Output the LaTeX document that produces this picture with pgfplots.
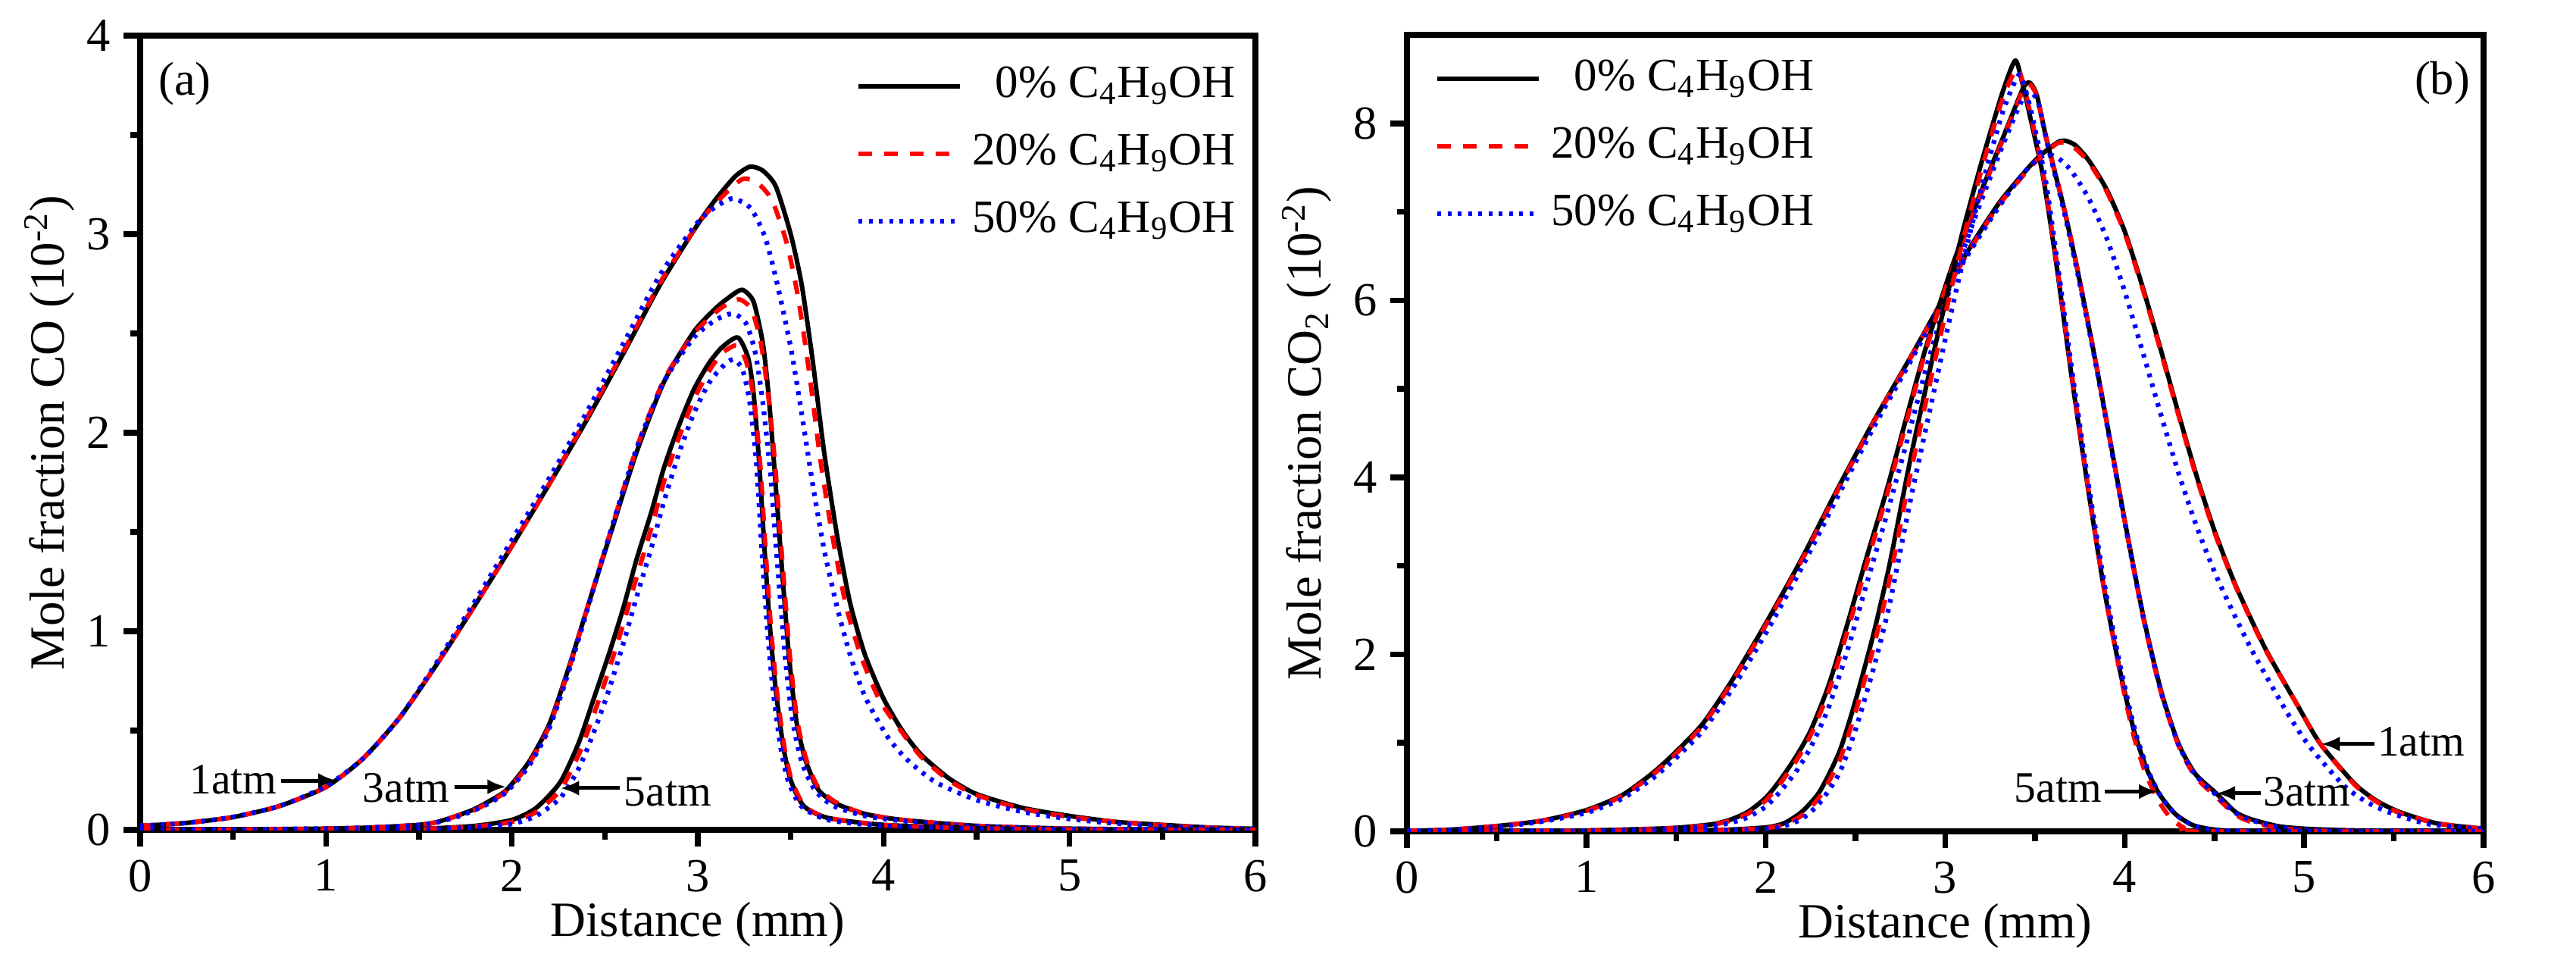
\documentclass[border=0pt]{standalone}
\usepackage{fontspec}
\setmainfont{Liberation Serif}
\usepackage{pgfplots}
\pgfplotsset{compat=1.18}
\usetikzlibrary{arrows.meta}

\tikzset{
  ann/.style={font=\fontsize{11.5}{13}\selectfont, inner sep=0pt},
  arr/.style={line width=1pt, -{Latex[length=5pt,width=4pt]}},
  s0/.style={black, line width=1.2pt, line join=round},
  s20/.style={red, line width=1.2pt, dash pattern=on 3.6pt off 3.2pt, line join=round},
  s50/.style={blue, line width=1.25pt, dash pattern=on 1pt off 1.7pt, line join=round},
}
\pgfplotsset{
  panel/.style={
    scale only axis,
    xmin=0, xmax=6, ymin=0,
    xtick={0,1,2,3,4,5,6},
    minor x tick num=1,
    minor y tick num=1,
    tick align=outside,
    xtick pos=left, ytick pos=left,
    major tick length=4.4pt, minor tick length=2.6pt,
    tick style={black, line width=1.5pt},
    axis line style={line width=1.6pt},
    tick label style={font=\fontsize{12.5}{15}\selectfont},
    /pgf/number format/assume math mode=true,
    label style={font=\fontsize{13}{15}\selectfont},
    xlabel={Distance (mm)},
    xlabel style={at={(axis description cs:0.5,-0.09)}, anchor=north, inner sep=0pt},
    legend cell align=right,
    legend style={draw=none, fill=none, inner sep=0pt,
      font=\fontsize{12.2}{15}\selectfont,
      nodes={inner sep=0pt, text height=9pt, text depth=3pt},
      row sep=5.8pt,
      /tikz/every odd column/.append style={column sep=2.6pt}},
  },
  leglong/.style={legend image code/.code={\draw[##1] (0pt,0pt) -- (26.8pt,0pt);}},
  c0/.style={/tikz/s0, /tikz/smooth, /tikz/tension=0.4},
  c20/.style={/tikz/s20, /tikz/smooth, /tikz/tension=0.4},
  c50/.style={/tikz/s50, /tikz/smooth, /tikz/tension=0.4},
}

\begin{document}
\begin{tikzpicture}
\useasboundingbox (0,0) rectangle (680pt,255pt);

% ---------------- (a) CO ----------------
\begin{axis}[panel,
  at={(37pt,36pt)}, anchor=south west,
  width=294.4pt, height=209.6pt,
  ymax=4, ytick={0,1,2,3,4},
  ylabel={Mole fraction CO (10\textsuperscript{-2})},
  ylabel style={at={(axis description cs:-0.0815,0.5)}, anchor=center},
  legend style={at={(axis description cs:0.983,0.966)}, anchor=north east},
]
\addlegendimage{s0, leglong}
\addlegendentry{0\% C\textsubscript{4}H\textsubscript{9}OH}
\addlegendimage{s20, leglong}
\addlegendentry{20\% C\textsubscript{4}H\textsubscript{9}OH}
\addlegendimage{s50, leglong}
\addlegendentry{50\% C\textsubscript{4}H\textsubscript{9}OH}
% 1 atm
\addplot[c0, forget plot] coordinates {(0.0,0.02) (0.25,0.035) (0.5,0.064) (0.75,0.12) (1.0,0.216) (1.2,0.36) (1.4,0.57) (1.6,0.84) (1.8,1.13) (2.0,1.43) (2.2,1.74) (2.4,2.06) (2.6,2.40) (2.8,2.75) (3.0,3.05) (3.1,3.18) (3.2,3.29) (3.28,3.34) (3.35,3.32) (3.42,3.24) (3.5,3.0) (3.56,2.74) (3.62,2.35) (3.68,1.90) (3.75,1.48) (3.82,1.14) (3.9,0.88) (4.0,0.66) (4.1,0.50) (4.2,0.38) (4.35,0.26) (4.5,0.18) (4.75,0.11) (5.0,0.07) (5.25,0.04) (5.5,0.025) (5.75,0.012) (6.0,0.005)};
\addplot[c20, forget plot] coordinates {(0.0,0.02) (0.25,0.035) (0.5,0.064) (0.75,0.12) (1.0,0.216) (1.2,0.36) (1.4,0.57) (1.6,0.84) (1.8,1.13) (2.0,1.43) (2.2,1.74) (2.4,2.07) (2.6,2.41) (2.8,2.76) (3.0,3.05) (3.1,3.16) (3.2,3.25) (3.25,3.28) (3.32,3.26) (3.4,3.17) (3.48,2.95) (3.54,2.68) (3.6,2.30) (3.66,1.86) (3.73,1.45) (3.8,1.12) (3.88,0.87) (3.98,0.65) (4.1,0.49) (4.2,0.37) (4.35,0.25) (4.5,0.175) (4.75,0.105) (5.0,0.065) (5.25,0.04) (5.5,0.023) (5.75,0.011) (6.0,0.005)};
\addplot[c50, forget plot] coordinates {(0.0,0.02) (0.25,0.035) (0.5,0.065) (0.75,0.12) (1.0,0.22) (1.2,0.36) (1.4,0.57) (1.6,0.85) (1.8,1.15) (2.0,1.46) (2.2,1.77) (2.4,2.10) (2.6,2.45) (2.8,2.80) (3.0,3.06) (3.1,3.14) (3.19,3.18) (3.285,3.13) (3.36,2.99) (3.42,2.78) (3.5,2.43) (3.56,2.09) (3.62,1.73) (3.68,1.41) (3.75,1.12) (3.82,0.88) (3.9,0.67) (4.02,0.47) (4.13,0.35) (4.28,0.24) (4.5,0.15) (4.75,0.09) (5.0,0.055) (5.25,0.032) (5.5,0.018) (5.75,0.009) (6.0,0.004)};
% 3 atm
\addplot[c0, forget plot] coordinates {(0.0,0.0) (0.5,0.002) (1.0,0.006) (1.25,0.012) (1.5,0.025) (1.6,0.04) (1.72,0.076) (1.8,0.105) (1.87,0.14) (1.97,0.20) (2.09,0.34) (2.2,0.53) (2.3,0.80) (2.4,1.10) (2.52,1.46) (2.67,1.90) (2.82,2.26) (2.98,2.51) (3.1,2.63) (3.18,2.69) (3.24,2.72) (3.3,2.66) (3.35,2.45) (3.38,2.2) (3.41,1.85) (3.45,1.35) (3.49,0.88) (3.53,0.55) (3.58,0.35) (3.65,0.2) (3.75,0.13) (3.9,0.08) (4.1,0.05) (4.5,0.02) (5.0,0.006) (5.5,0.002) (6.0,0.0)};
\addplot[c20, forget plot] coordinates {(0.0,0.0) (0.5,0.002) (1.0,0.006) (1.25,0.012) (1.5,0.025) (1.6,0.04) (1.72,0.075) (1.8,0.10) (1.87,0.135) (1.97,0.195) (2.09,0.33) (2.2,0.52) (2.3,0.79) (2.4,1.10) (2.52,1.47) (2.67,1.92) (2.82,2.27) (2.98,2.50) (3.1,2.61) (3.18,2.66) (3.23,2.67) (3.29,2.62) (3.34,2.45) (3.38,2.18) (3.415,1.85) (3.455,1.35) (3.495,0.88) (3.535,0.55) (3.585,0.35) (3.65,0.21) (3.75,0.135) (3.9,0.08) (4.1,0.05) (4.5,0.02) (5.0,0.006) (5.5,0.002) (6.0,0.0)};
\addplot[c50, forget plot] coordinates {(0.0,0.0) (0.5,0.002) (1.0,0.006) (1.25,0.012) (1.5,0.024) (1.6,0.038) (1.72,0.07) (1.8,0.10) (1.87,0.13) (1.97,0.19) (2.09,0.32) (2.2,0.51) (2.3,0.78) (2.4,1.09) (2.52,1.47) (2.67,1.92) (2.82,2.26) (2.98,2.48) (3.1,2.57) (3.19,2.60) (3.26,2.55) (3.31,2.40) (3.35,2.15) (3.39,1.80) (3.43,1.32) (3.47,0.87) (3.51,0.55) (3.56,0.34) (3.63,0.2) (3.73,0.12) (3.9,0.07) (4.1,0.045) (4.5,0.018) (5.0,0.005) (5.5,0.002) (6.0,0.0)};
% 5 atm
\addplot[c0, forget plot] coordinates {(0.0,0.0) (1.0,0.001) (1.5,0.005) (1.8,0.02) (2.0,0.05) (2.13,0.11) (2.26,0.24) (2.36,0.44) (2.44,0.66) (2.52,0.88) (2.6,1.12) (2.67,1.36) (2.75,1.60) (2.82,1.83) (2.9,2.04) (2.98,2.22) (3.06,2.35) (3.13,2.43) (3.215,2.48) (3.27,2.38) (3.3,2.2) (3.33,1.85) (3.36,1.4) (3.39,1.0) (3.42,0.7) (3.46,0.42) (3.5,0.25) (3.57,0.12) (3.7,0.06) (4.0,0.025) (4.5,0.008) (5.0,0.002) (6.0,0.0)};
\addplot[c20, forget plot] coordinates {(0.0,0.0) (1.0,0.001) (1.5,0.004) (1.8,0.017) (2.0,0.04) (2.13,0.09) (2.26,0.20) (2.36,0.38) (2.44,0.58) (2.52,0.80) (2.6,1.04) (2.67,1.27) (2.75,1.52) (2.82,1.76) (2.9,1.98) (2.98,2.17) (3.06,2.31) (3.13,2.40) (3.21,2.44) (3.26,2.36) (3.3,2.18) (3.335,1.85) (3.365,1.4) (3.395,1.0) (3.425,0.7) (3.465,0.42) (3.505,0.25) (3.575,0.12) (3.7,0.06) (4.0,0.024) (4.5,0.008) (5.0,0.002) (6.0,0.0)};
\addplot[c50, forget plot] coordinates {(0.0,0.0) (1.0,0.001) (1.5,0.003) (1.8,0.013) (2.0,0.03) (2.13,0.07) (2.26,0.16) (2.36,0.31) (2.44,0.49) (2.52,0.70) (2.6,0.94) (2.67,1.17) (2.75,1.42) (2.82,1.66) (2.9,1.90) (2.98,2.10) (3.06,2.25) (3.13,2.33) (3.19,2.37) (3.24,2.32) (3.28,2.15) (3.315,1.85) (3.345,1.4) (3.375,1.0) (3.405,0.7) (3.445,0.42) (3.485,0.25) (3.555,0.12) (3.7,0.05) (4.0,0.02) (4.5,0.006) (5.0,0.002) (6.0,0.0)};

\node[ann, anchor=base] at (axis cs:0.24,3.70) {\fontsize{12.5}{15}\selectfont(a)};
\node[ann, anchor=base east] at (axis cs:0.74,0.183) {1atm};
\draw[arr] (axis cs:0.76,0.248) -- (axis cs:1.06,0.248);
\node[ann, anchor=base east] at (axis cs:1.67,0.141) {3atm};
\draw[arr] (axis cs:1.69,0.217) -- (axis cs:1.97,0.217);
\node[ann, anchor=base west] at (axis cs:2.60,0.122) {5atm};
\draw[arr] (axis cs:2.58,0.21) -- (axis cs:2.26,0.21);
\end{axis}

% ---------------- (b) CO2 ----------------
\begin{axis}[panel,
  at={(371.4pt,35.6pt)}, anchor=south west,
  width=284.2pt, height=210.2pt,
  ymax=9, ytick={0,2,4,6,8},
  ylabel={Mole fraction CO\textsubscript{2} (10\textsuperscript{-2})},
  ylabel style={at={(axis description cs:-0.093,0.5)}, anchor=center},
  legend style={at={(axis description cs:0.0253,0.974)}, anchor=north west},
]
\addlegendimage{s0, leglong}
\addlegendentry{0\% C\textsubscript{4}H\textsubscript{9}OH}
\addlegendimage{s20, leglong}
\addlegendentry{20\% C\textsubscript{4}H\textsubscript{9}OH}
\addlegendimage{s50, leglong}
\addlegendentry{50\% C\textsubscript{4}H\textsubscript{9}OH}
% 1 atm
\addplot[c0, forget plot] coordinates {(0.0,0.005) (0.25,0.02) (0.5,0.06) (0.75,0.12) (1.0,0.24) (1.2,0.41) (1.37,0.66) (1.5,0.90) (1.65,1.22) (1.81,1.70) (2.0,2.35) (2.2,3.08) (2.4,3.87) (2.6,4.63) (2.79,5.30) (2.95,5.88) (3.1,6.47) (3.3,7.10) (3.5,7.58) (3.64,7.80) (3.72,7.76) (3.8,7.58) (3.9,7.25) (4.0,6.78) (4.1,6.15) (4.2,5.45) (4.3,4.72) (4.4,4.02) (4.5,3.40) (4.62,2.77) (4.785,2.06) (4.97,1.40) (5.09,0.99) (5.28,0.54) (5.4,0.35) (5.53,0.22) (5.74,0.09) (6.0,0.03)};
\addplot[c20, forget plot] coordinates {(0.0,0.005) (0.25,0.02) (0.5,0.06) (0.75,0.12) (1.0,0.23) (1.2,0.40) (1.37,0.64) (1.5,0.88) (1.65,1.20) (1.81,1.68) (2.0,2.33) (2.2,3.06) (2.4,3.85) (2.6,4.62) (2.79,5.29) (2.95,5.87) (3.1,6.45) (3.3,7.08) (3.5,7.56) (3.63,7.78) (3.71,7.74) (3.8,7.56) (3.9,7.23) (4.0,6.76) (4.1,6.13) (4.2,5.43) (4.3,4.70) (4.4,4.00) (4.5,3.38) (4.62,2.76) (4.785,2.05) (4.97,1.40) (5.09,0.99) (5.28,0.53) (5.4,0.34) (5.53,0.21) (5.74,0.09) (6.0,0.03)};
\addplot[c50, forget plot] coordinates {(0.0,0.005) (0.25,0.018) (0.5,0.05) (0.75,0.11) (1.0,0.21) (1.2,0.37) (1.37,0.60) (1.5,0.83) (1.65,1.14) (1.81,1.60) (2.0,2.24) (2.2,2.98) (2.4,3.78) (2.6,4.56) (2.79,5.25) (2.95,5.85) (3.1,6.43) (3.3,7.06) (3.45,7.47) (3.55,7.64) (3.62,7.62) (3.7,7.47) (3.8,7.15) (3.9,6.70) (4.0,6.10) (4.1,5.42) (4.2,4.72) (4.3,4.05) (4.4,3.45) (4.52,2.84) (4.7,2.08) (4.9,1.36) (5.03,0.96) (5.22,0.52) (5.35,0.33) (5.48,0.21) (5.7,0.08) (6.0,0.025)};
% 3 atm
\addplot[c0, forget plot] coordinates {(0.0,0.0) (0.5,0.003) (1.0,0.01) (1.3,0.025) (1.5,0.04) (1.7,0.08) (1.8,0.13) (1.9,0.22) (2.0,0.38) (2.08,0.58) (2.17,0.85) (2.25,1.14) (2.35,1.65) (2.46,2.38) (2.565,3.12) (2.67,3.83) (2.78,4.65) (2.885,5.42) (2.98,6.03) (3.055,6.48) (3.168,7.07) (3.318,7.82) (3.432,8.39) (3.47,8.46) (3.51,8.32) (3.564,7.82) (3.658,7.07) (3.733,6.38) (3.828,5.41) (3.922,4.38) (4.016,3.34) (4.11,2.37) (4.205,1.57) (4.3,0.99) (4.393,0.65) (4.51,0.43) (4.616,0.22) (4.7,0.14) (4.85,0.06) (5.0,0.03) (5.3,0.01) (6.0,0.0)};
\addplot[c20, forget plot] coordinates {(0.0,0.0) (0.5,0.003) (1.0,0.01) (1.3,0.024) (1.5,0.038) (1.7,0.075) (1.8,0.12) (1.9,0.20) (2.0,0.35) (2.08,0.54) (2.17,0.80) (2.25,1.09) (2.35,1.58) (2.46,2.30) (2.565,3.04) (2.67,3.77) (2.78,4.60) (2.885,5.39) (2.98,6.00) (3.055,6.44) (3.168,7.04) (3.318,7.80) (3.432,8.37) (3.47,8.44) (3.51,8.31) (3.564,7.83) (3.658,7.08) (3.733,6.39) (3.828,5.42) (3.922,4.38) (4.016,3.33) (4.11,2.35) (4.205,1.55) (4.3,0.97) (4.393,0.62) (4.51,0.39) (4.616,0.19) (4.7,0.11) (4.85,0.04) (5.0,0.015) (5.3,0.0) (6.0,0.0)};
\addplot[c50, forget plot] coordinates {(0.0,0.0) (0.5,0.002) (1.0,0.008) (1.3,0.02) (1.5,0.032) (1.7,0.06) (1.8,0.095) (1.9,0.16) (2.0,0.28) (2.08,0.45) (2.17,0.68) (2.25,0.95) (2.35,1.40) (2.46,2.08) (2.565,2.82) (2.67,3.55) (2.78,4.36) (2.885,5.17) (2.98,5.83) (3.055,6.31) (3.168,6.95) (3.318,7.74) (3.432,8.28) (3.48,8.35) (3.52,8.22) (3.57,7.76) (3.66,7.02) (3.735,6.33) (3.83,5.37) (3.922,4.36) (4.016,3.32) (4.11,2.36) (4.205,1.56) (4.3,0.98) (4.393,0.64) (4.51,0.41) (4.616,0.21) (4.7,0.13) (4.85,0.05) (5.0,0.02) (5.3,0.005) (6.0,0.0)};
% 5 atm
\addplot[c0, forget plot] coordinates {(0.0,0.0) (1.0,0.003) (1.5,0.01) (1.8,0.02) (2.0,0.045) (2.1,0.09) (2.2,0.22) (2.3,0.45) (2.41,0.90) (2.5,1.48) (2.6,2.23) (2.69,3.02) (2.81,4.25) (2.94,5.45) (3.017,6.12) (3.1,6.80) (3.205,7.58) (3.319,8.35) (3.39,8.71) (3.43,8.45) (3.47,8.10) (3.545,7.40) (3.62,6.4) (3.7,5.2) (3.79,3.95) (3.88,2.8) (3.97,1.85) (4.05,1.15) (4.12,0.72) (4.19,0.43) (4.28,0.2) (4.38,0.07) (4.5,0.02) (4.7,0.005) (6.0,0.0)};
\addplot[c20, forget plot] coordinates {(0.0,0.0) (1.0,0.002) (1.5,0.008) (1.8,0.017) (2.0,0.038) (2.1,0.075) (2.2,0.18) (2.3,0.39) (2.41,0.80) (2.5,1.35) (2.6,2.08) (2.69,2.85) (2.81,4.08) (2.94,5.30) (3.017,5.99) (3.1,6.69) (3.205,7.50) (3.319,8.28) (3.40,8.62) (3.44,8.40) (3.48,8.06) (3.55,7.38) (3.625,6.36) (3.705,5.16) (3.795,3.9) (3.885,2.74) (3.975,1.78) (4.05,1.08) (4.12,0.64) (4.19,0.34) (4.26,0.14) (4.33,0.04) (4.38,0.0) (6.0,0.0)};
\addplot[c50, forget plot] coordinates {(0.0,0.0) (1.0,0.002) (1.5,0.006) (1.8,0.013) (2.0,0.03) (2.1,0.06) (2.2,0.14) (2.3,0.32) (2.41,0.66) (2.5,1.15) (2.6,1.84) (2.69,2.57) (2.81,3.78) (2.94,5.00) (3.017,5.72) (3.1,6.45) (3.205,7.30) (3.319,8.12) (3.41,8.55) (3.45,8.36) (3.49,8.03) (3.56,7.35) (3.63,6.35) (3.71,5.15) (3.80,3.9) (3.89,2.76) (3.98,1.82) (4.06,1.12) (4.13,0.69) (4.2,0.40) (4.29,0.18) (4.39,0.06) (4.5,0.015) (4.7,0.003) (6.0,0.0)};

\node[ann, anchor=base] at (axis cs:5.77,8.33) {\fontsize{12.5}{15}\selectfont(b)};
\node[ann, anchor=base west] at (axis cs:5.405,0.85) {1atm};
\draw[arr] (axis cs:5.39,0.987) -- (axis cs:5.094,0.987);
\node[ann, anchor=base west] at (axis cs:4.77,0.29) {3atm};
\draw[arr] (axis cs:4.76,0.43) -- (axis cs:4.51,0.43);
\node[ann, anchor=base east] at (axis cs:3.875,0.33) {5atm};
\draw[arr] (axis cs:3.89,0.45) -- (axis cs:4.185,0.45);
\end{axis}
\end{tikzpicture}
\end{document}
